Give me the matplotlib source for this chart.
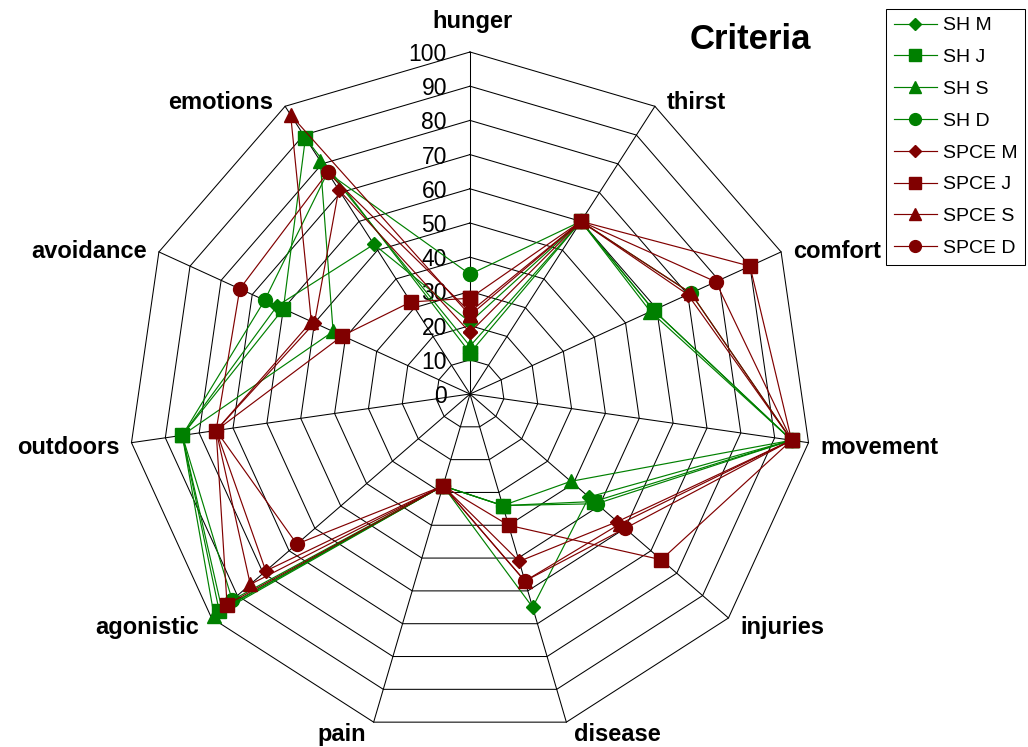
import numpy as np
import matplotlib
matplotlib.use("Agg")
import matplotlib.pyplot as plt

plt.rcParams['font.family'] = ['Liberation Sans', 'DejaVu Sans']

# ---------------- data ----------------
categories = ["hunger", "thirst", "comfort", "movement", "injuries", "disease",
              "pain", "agonistic", "outdoors", "avoidance", "emotions"]
sh_m = [21, 60, 59, 95, 46, 65, 28, 96, 85, 62, 52]
sh_j = [12, 60, 59, 95, 48, 34, 28, 97, 85, 60, 89]
sh_s = [14, 60, 58, 95, 39, 34, 28, 99, 85, 44, 81]
sh_d = [35, 60, 71, 95, 49, 34, 28, 92, 85, 66, 77]
spce_m = [18, 60, 70, 95, 57, 51, 28, 79, 75, 50, 71]
spce_j = [28, 60, 90, 95, 74, 40, 28, 94, 75, 41, 32]
spce_s = [23, 60, 71, 95, 58, 57, 28, 85, 75, 51, 97]
spce_d = [24, 60, 79, 95, 60, 57, 28, 67, 75, 74, 77]
series_names = ["SH M", "SH J", "SH S", "SH D", "SPCE M", "SPCE J", "SPCE S", "SPCE D"]
tick_values = list(range(0, 101, 10))

series = [sh_m, sh_j, sh_s, sh_d, spce_m, spce_j, spce_s, spce_d]
GREEN, RED = "#008000", "#800000"
colors = [GREEN] * 4 + [RED] * 4
markers = ["D", "s", "^", "o"] * 2
msizes = {"D": 7.2, "s": 10.0, "^": 10.5, "o": 10.0}

# ---------------- layout ----------------
W, H = 1028, 747
fig = plt.figure(figsize=(W / 100, H / 100), dpi=100)
ax = fig.add_axes([0, 0, 1, 1])
PX = 3.42          # pixels per value unit
cx, cy = 470, 394  # centre in pixels (from top-left)
ax.set_xlim(-cx / PX, (W - cx) / PX)
ax.set_ylim(-(H - cy) / PX, cy / PX)
ax.axis("off")
P = 0.72  # px -> pt

n = len(categories)
theta = np.deg2rad(90 - np.arange(n) * 360.0 / n)
ct, st = np.cos(theta), np.sin(theta)

# grid rings and spokes
for r in tick_values[1:]:
    ax.plot(np.append(r * ct, r * ct[0]), np.append(r * st, r * st[0]),
            color="black", lw=0.75, zorder=1)
for k in range(n):
    ax.plot([0, 100 * ct[k]], [0, 100 * st[k]], color="black", lw=0.75, zorder=1)

# radial tick labels
for r in tick_values:
    ax.annotate(str(r), xy=(0, r), xytext=(-23 * P, -9 * P),
                textcoords="offset points", ha="right", va="baseline",
                fontsize=16.5, zorder=2)

# category labels
for k, lab in enumerate(categories):
    vx, vy = 100 * ct[k], 100 * st[k]
    if abs(ct[k]) < 0.1:
        ha, dx, dy = "center", 2, 24
    else:
        gap = 12 if abs(ct[k]) > 0.5 else 8
        ha = "left" if ct[k] > 0 else "right"
        dx = gap if ct[k] > 0 else -gap
        dy = -(10 - 9 * st[k])
    ax.annotate(lab, xy=(vx, vy), xytext=(dx * P, dy * P),
                textcoords="offset points", ha=ha, va="baseline",
                fontsize=17, fontweight="bold", zorder=2)

# series
for i, (vals, name) in enumerate(zip(series, series_names)):
    v = np.asarray(vals, dtype=float)
    xs = np.append(v * ct, v[0] * ct[0])
    ys = np.append(v * st, v[0] * st[0])
    ax.plot(xs, ys, color=colors[i], lw=0.85, marker=markers[i],
            ms=msizes[markers[i]], mfc=colors[i], mec=colors[i],
            label=name, zorder=3 + i)

# title
fig.text(750 / W, 1 - 49 / H, "Criteria", ha="center", va="baseline",
         fontsize=25, fontweight="bold")

leg = ax.legend(loc="upper right", bbox_to_anchor=(1025 / W, 1 - 9 / H),
                bbox_transform=fig.transFigure, frameon=True, fancybox=False,
                edgecolor="black", framealpha=1, fontsize=14,
                handlelength=2.2, handletextpad=0.3, labelspacing=0.73,
                borderpad=0.4, borderaxespad=0, markerscale=0.85)
leg.get_frame().set_linewidth(0.75)

fig.savefig("out.png", dpi=100)
